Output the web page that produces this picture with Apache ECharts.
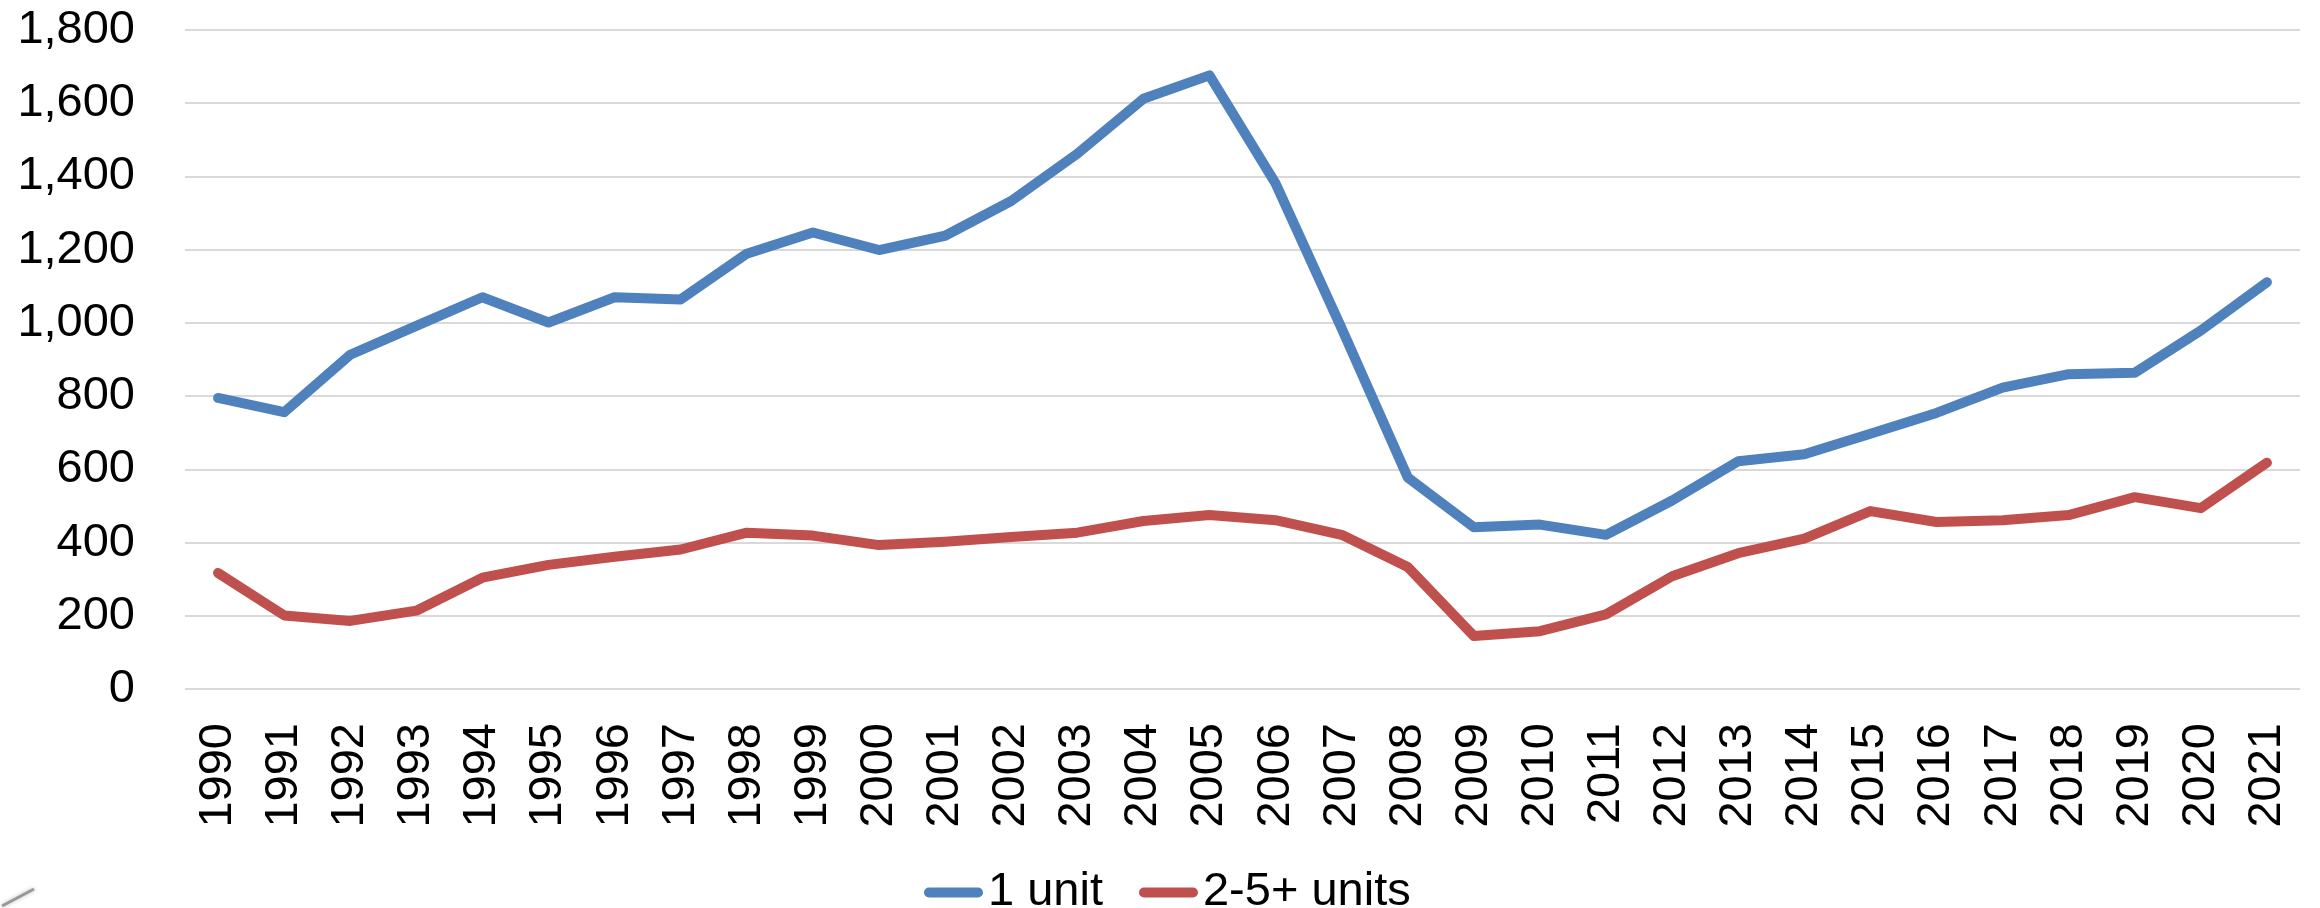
<!DOCTYPE html>
<html>
<head>
<meta charset="utf-8">
<script src="https://cdn.jsdelivr.net/npm/echarts@6/dist/echarts.min.js"></script>
<style>
  html, body { margin: 0; padding: 0; background: #fff; }
  #chart { width: 2320px; height: 908px; }
</style>
</head>
<body>
<div id="chart"></div>
<script>
// years on the x axis
var years = ['1990', '1991', '1992', '1993', '1994', '1995', '1996', '1997', '1998', '1999',
  '2000', '2001', '2002', '2003', '2004', '2005', '2006', '2007', '2008', '2009',
  '2010', '2011', '2012', '2013', '2014', '2015', '2016', '2017', '2018', '2019',
  '2020', '2021'];

// single unit structures
var oneUnit = [795, 756, 913, 992, 1070, 1001, 1070, 1064, 1189, 1247,
  1199, 1238, 1333, 1462, 1612, 1676, 1381, 985, 578, 442,
  449, 421, 515, 622, 641, 697, 754, 823, 860, 864,
  979, 1111];

// 2 to 5+ unit structures
var multiUnit = [317, 201, 186, 214, 304, 339, 361, 381, 427, 419,
  393, 402, 415, 427, 459, 475, 461, 421, 333, 145,
  158, 204, 308, 371, 411, 486, 456, 461, 475, 524,
  494, 618];

var seriesNames = ['1 unit', '2-5+ units'];
var yTicks = { min: 0, max: 1800, step: 200 };

var chart = echarts.init(document.getElementById('chart'));

var fontFamily = '"Liberation Sans", Arial, sans-serif';
// capsule shaped legend marker
var capsule = 'path://M5,0 H54 A5,5 0 0 1 54,10 H5 A5,5 0 0 1 5,0 Z';

chart.setOption({
  animation: false,
  color: ['#4F81BD', '#C0504D'],
  grid: {
    left: 185,
    right: 20,
    top: 30,
    bottom: 219
  },
  legend: {
    data: seriesNames,
    left: 919,
    top: 864,
    icon: capsule,
    itemWidth: 59,
    itemHeight: 10,
    itemGap: 36,
    textStyle: {
      fontFamily: fontFamily,
      fontSize: 47,
      color: '#000'
    }
  },
  xAxis: {
    type: 'category',
    data: years,
    boundaryGap: true,
    axisLine: { show: false },
    axisTick: { show: false },
    axisLabel: {
      rotate: 90,
      margin: 34,
      color: '#000',
      fontFamily: fontFamily,
      fontSize: 47,
      interval: 0
    }
  },
  yAxis: {
    type: 'value',
    min: yTicks.min,
    max: yTicks.max,
    interval: yTicks.step,
    axisLine: { show: false },
    axisTick: { show: false },
    axisLabel: {
      margin: 50,
      color: '#000',
      fontFamily: fontFamily,
      fontSize: 47,
      formatter: function (v) {
        return v.toLocaleString('en-US');
      }
    },
    splitLine: {
      lineStyle: { color: '#D9D9D9', width: 2 }
    }
  },
  series: [
    {
      name: seriesNames[0],
      type: 'line',
      data: oneUnit,
      symbol: 'none',
      lineStyle: { width: 10, cap: 'round', join: 'round' }
    },
    {
      name: seriesNames[1],
      type: 'line',
      data: multiUnit,
      symbol: 'none',
      lineStyle: { width: 10, cap: 'round', join: 'round' }
    }
  ],
  graphic: [
    {
      // faint scan smudge in the bottom-left corner of the original
      type: 'line',
      shape: { x1: 2, y1: 906, x2: 34, y2: 889 },
      style: { stroke: '#666', lineWidth: 3, opacity: 0.6, shadowBlur: 4, shadowColor: '#999' }
    }
  ]
});
</script>
</body>
</html>
